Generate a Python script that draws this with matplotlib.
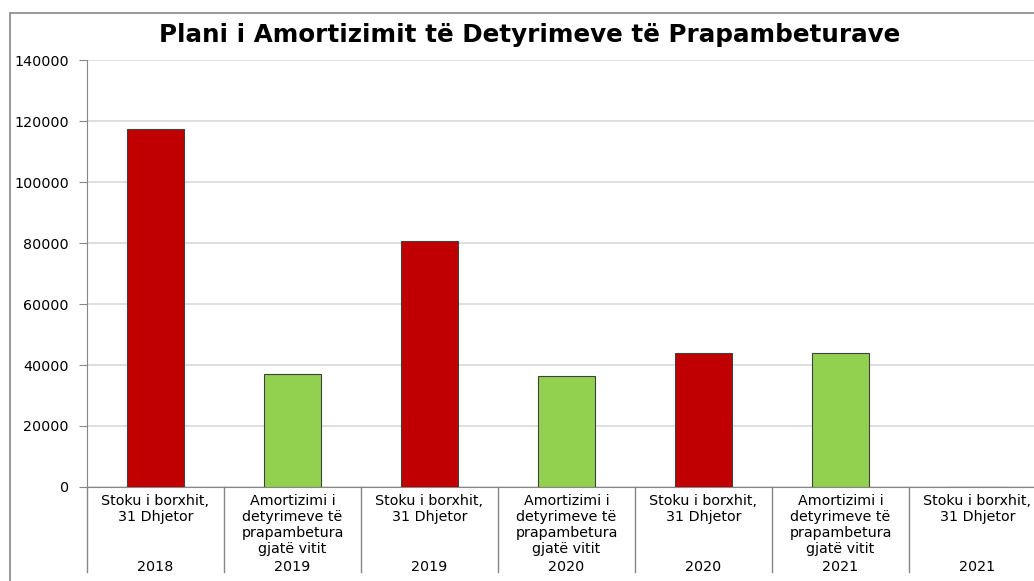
import matplotlib.pyplot as plt
from matplotlib.patches import Rectangle

plt.rcParams['font.family'] = ['DejaVu Sans']

# data
categories = [
    "Stoku i borxhit,\n31 Dhjetor",
    "Amortizimi i\ndetyrimeve të\nprapambetura\ngjatë vitit",
    "Stoku i borxhit,\n31 Dhjetor",
    "Amortizimi i\ndetyrimeve të\nprapambetura\ngjatë vitit",
    "Stoku i borxhit,\n31 Dhjetor",
    "Amortizimi i\ndetyrimeve të\nprapambetura\ngjatë vitit",
    "Stoku i borxhit,\n31 Dhjetor",
]
years = ["2018", "2019", "2019", "2020", "2020", "2021", "2021"]
values = [117400, 37000, 80600, 36400, 43900, 43900, 0]
bar_colors = ["#C00000", "#92D050", "#C00000", "#92D050", "#C00000", "#92D050", "#C00000"]

fig = plt.figure(figsize=(10.34, 5.81), dpi=100)
ax = fig.add_axes([0.0841, 0.1618, 0.9275, 0.7349])

# outer chart border (extends past the cropped edges)
fig.patches.append(Rectangle((10 / 1034, -0.1), 1.2, (581 - 13) / 581 + 0.1,
                             transform=fig.transFigure, fill=False,
                             edgecolor="#868686", linewidth=1.2, clip_on=False))

x = list(range(len(categories)))
ax.bar(x, values, width=0.41, color=bar_colors, edgecolor="#404040", linewidth=0.8, zorder=3)

ax.set_xlim(-0.5, len(categories) - 0.5)
ax.set_ylim(0, 140000)
ax.set_yticks(range(0, 140001, 20000))
ax.yaxis.grid(True, color="#D9D9D9", linewidth=1.2, zorder=0)
ax.tick_params(axis="y", length=6, color="#868686", labelsize=10.3, pad=7)
ax.tick_params(axis="x", length=0, labelbottom=False)

for s in ["top", "right"]:
    ax.spines[s].set_visible(False)
ax.spines["left"].set_color("#868686")
ax.spines["bottom"].set_color("#868686")

# two-level category labels
trans = ax.get_xaxis_transform()
for i, (c, y) in enumerate(zip(categories, years)):
    ax.text(i, -0.016, c, transform=trans, ha="center", va="top", fontsize=10.3,
            linespacing=1.19, clip_on=False)
    ax.text(i, -0.188, y, transform=trans, ha="center", va="center", fontsize=10.3,
            clip_on=False)
for i in range(len(categories) + 1):
    ax.plot([i - 0.5, i - 0.5], [0, -0.2], transform=trans, color="#868686",
            linewidth=1, clip_on=False)

fig.text(0.512, 0.94, "Plani i Amortizimit të Detyrimeve të Prapambeturave",
         ha="center", va="center", fontsize=17.7, fontweight="bold")

plt.savefig("out.png", dpi=100)
plt.close()
